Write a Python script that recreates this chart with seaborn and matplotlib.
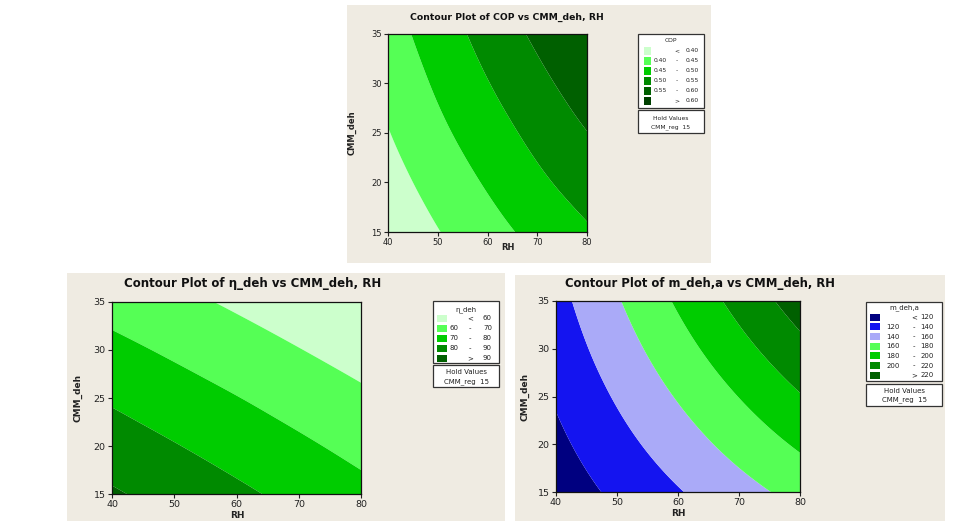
import numpy as np
import matplotlib
matplotlib.use("Agg")
import matplotlib.pyplot as plt
import matplotlib.tri as mtri
from matplotlib.patches import Rectangle
import seaborn as sns

# ---------------- data ----------------
RH = [40, 50, 60, 70, 80]
CMM_deh = [15, 20, 25, 30, 35]

# rows follow CMM_deh (15 -> 35), columns follow RH (40 -> 80)
cop_values = [
    [0.361, 0.398, 0.432, 0.464, 0.494],
    [0.380, 0.419, 0.455, 0.490, 0.522],
    [0.398, 0.439, 0.477, 0.514, 0.549],
    [0.414, 0.457, 0.498, 0.537, 0.574],
    [0.429, 0.474, 0.518, 0.559, 0.596],
]
cop_levels = [0.40, 0.45, 0.50, 0.55, 0.60]

eta_values = [
    [91.1, 86.5, 81.9, 77.3, 72.75],
    [84.9, 80.5, 76.1, 71.7, 67.25],
    [78.8, 74.5, 70.3, 66.0, 61.75],
    [72.6, 68.5, 64.4, 60.3, 56.25],
    [66.4, 62.5, 58.6, 54.7, 50.75],
]
eta_levels = [60, 70, 80, 90]

m_values = [
    [108.6, 123.9, 138.6, 152.8, 166.5],
    [115.5, 133.2, 150.3, 166.9, 182.9],
    [122.0, 142.0, 161.5, 180.4, 198.8],
    [128.0, 150.4, 172.3, 193.6, 214.4],
    [133.5, 158.3, 182.6, 206.3, 229.5],
]
m_levels = [120, 140, 160, 180, 200, 220]

x_ticklabels = ["40", "50", "60", "70", "80"]
y_ticklabels = ["15", "20", "25", "30", "35"]

cop_colors = ["#ccffcc", "#55ff55", "#00cc00", "#008a00", "#006000", "#004000"]
eta_colors = ["#ccffcc", "#55ff55", "#00cc00", "#008a00", "#006000"]
m_colors = ["#000080", "#1414f0", "#aaaaf8", "#55ff55", "#00cc00", "#008a00", "#006000"]

# ---------------- style ----------------
sns.set_style("white")
plt.rcParams["font.family"] = ["DejaVu Sans"]

W, H = 964, 527
BEIGE = "#efebe2"
fig = plt.figure(figsize=(W / 100, H / 100), dpi=100)
fig.patch.set_facecolor("white")

# triangulation of the measurement grid (two triangles per cell)
_X, _Y = np.meshgrid(RH, CMM_deh)
_nx, _ny = len(RH), len(CMM_deh)
_tris = []
for j in range(_ny - 1):
    for i in range(_nx - 1):
        p = j * _nx + i
        _tris.append([p, p + 1, p + _nx + 1])
        _tris.append([p, p + _nx + 1, p + _nx])
TRI = mtri.Triangulation(_X.ravel(), _Y.ravel(), np.array(_tris))
REFINER = mtri.UniformTriRefiner(TRI)


def fx(x):
    return x / W


def fy(y):
    return 1 - y / H


def frect(x0, y0, x1, y1, **kw):
    r = Rectangle((fx(x0), fy(y1)), (x1 - x0) / W, (y1 - y0) / H,
                  transform=fig.transFigure, **kw)
    fig.patches.append(r)
    return r


def ftext(x, y, s, **kw):
    kw.setdefault("color", "#222222")
    fig.text(fx(x), fy(y), s, **kw)


def panel(bg, ax_box, z, levels, colors, title, title_xy, title_fs,
          xlabel_xy, ylabel_xy, tick_fs, label_fs):
    frect(*bg, facecolor=BEIGE, edgecolor="none", zorder=-10)
    x0, y0, x1, y1 = ax_box
    ax = fig.add_axes([fx(x0), fy(y1), (x1 - x0) / W, (y1 - y0) / H])
    ax.set_zorder(2)
    lv = [-1e9] + list(levels) + [1e9]
    zf = np.array(z, dtype=float).ravel()
    interp = mtri.CubicTriInterpolator(TRI, zf, kind="min_E")
    tri_r, z_r = REFINER.refine_field(zf, triinterpolator=interp, subdiv=4)
    ax.tricontourf(tri_r, z_r, levels=lv, colors=colors, antialiased=True)
    ax.set_xlim(RH[0], RH[-1])
    ax.set_ylim(CMM_deh[0], CMM_deh[-1])
    ax.set_xticks(RH)
    ax.set_xticklabels(x_ticklabels)
    ax.set_yticks(CMM_deh)
    ax.set_yticklabels(y_ticklabels)
    ax.tick_params(direction="out", length=3, width=0.8, pad=1.5,
                   labelsize=tick_fs, colors="#222222", bottom=True, left=True)
    for s in ax.spines.values():
        s.set_color("#111111")
        s.set_linewidth(0.9)
    ftext(*title_xy, title, ha="center", va="center", fontsize=title_fs,
          fontweight="bold", color="#111111")
    ftext(*xlabel_xy, "RH", ha="center", va="center", fontsize=label_fs,
          fontweight="bold")
    ftext(*ylabel_xy, "CMM_deh", ha="center", va="center", fontsize=label_fs,
          fontweight="bold", rotation=90)
    return ax


def legend(box, title, title_y, row0, step, colors, levels, fmt,
           sw_x0, sw_x1, sw_h, lnum_r, sym_c, rnum_r, hold_box, hold_y, fs):
    x0, y0, x1, y1 = box
    frect(x0, y0, x1, y1, facecolor="white", edgecolor="#333333",
          linewidth=0.9, zorder=1)
    xc = (x0 + x1) / 2
    ftext(xc, title_y, title, ha="center", va="center", fontsize=fs)
    n = len(colors)
    for i, c in enumerate(colors):
        yy = row0 + i * step
        frect(sw_x0, yy - sw_h / 2, sw_x1, yy + sw_h / 2, facecolor=c,
              edgecolor="none", zorder=2)
        if i == 0:
            left, sym, right = "", "<", fmt.format(levels[0])
        elif i == n - 1:
            left, sym, right = "", ">", fmt.format(levels[-1])
        else:
            left, sym, right = fmt.format(levels[i - 1]), "-", fmt.format(levels[i])
        if left:
            ftext(lnum_r, yy, left, ha="right", va="center", fontsize=fs)
        ftext(sym_c, yy, sym, ha="center", va="center", fontsize=fs)
        ftext(rnum_r, yy, right, ha="right", va="center", fontsize=fs)
    hx0, hy0, hx1, hy1 = hold_box
    frect(hx0, hy0, hx1, hy1, facecolor="white", edgecolor="#333333",
          linewidth=0.9, zorder=1)
    hc = (hx0 + hx1) / 2
    ftext(hc, hold_y[0], "Hold Values", ha="center", va="center", fontsize=fs)
    ftext(hc, hold_y[1], "CMM_reg  15", ha="center", va="center", fontsize=fs)


# ---------------- panel 1: COP ----------------
panel((347, 5, 711, 263), (388, 34, 587, 232), cop_values, cop_levels,
      cop_colors, "Contour Plot of COP vs CMM_deh, RH", (507, 17), 6.7,
      (508, 247), (352, 133), 6.0, 6.0)
legend((638, 34, 704, 108), "COP", 40.5, 51, 9.95, cop_colors, cop_levels,
       "{:.2f}", 644, 651, 8, 667, 677, 699, (638, 110, 704, 133),
       (118.5, 127.5), 4.3)

# ---------------- panel 2: eta_deh ----------------
panel((67, 273, 505, 521), (112, 302, 361, 494), eta_values, eta_levels,
      eta_colors, "Contour Plot of η_deh vs CMM_deh, RH", (253, 284), 8.5,
      (237, 515), (78, 398), 6.8, 6.5)
legend((433, 301, 499, 363), "η_deh", 310, 318, 10, eta_colors, eta_levels,
       "{:d}", 437, 447, 7, 458, 470, 492, (433, 365, 499, 387),
       (372.5, 381.5), 5.0)

# ---------------- panel 3: m_deh,a ----------------
panel((515, 275, 945, 521), (556, 301, 800, 492), m_values, m_levels,
      m_colors, "Contour Plot of m_deh,a vs CMM_deh, RH", (700, 284), 8.4,
      (678, 514), (525, 397), 6.8, 6.5)
legend((866, 302, 942, 381), "m_deh,a", 308, 317.3, 9.67, m_colors, m_levels,
       "{:d}", 870, 880, 7, 900, 913.7, 934, (866, 384, 942, 406),
       (391, 400), 5.0)

fig.savefig("out.png", dpi=100, facecolor=fig.get_facecolor())
